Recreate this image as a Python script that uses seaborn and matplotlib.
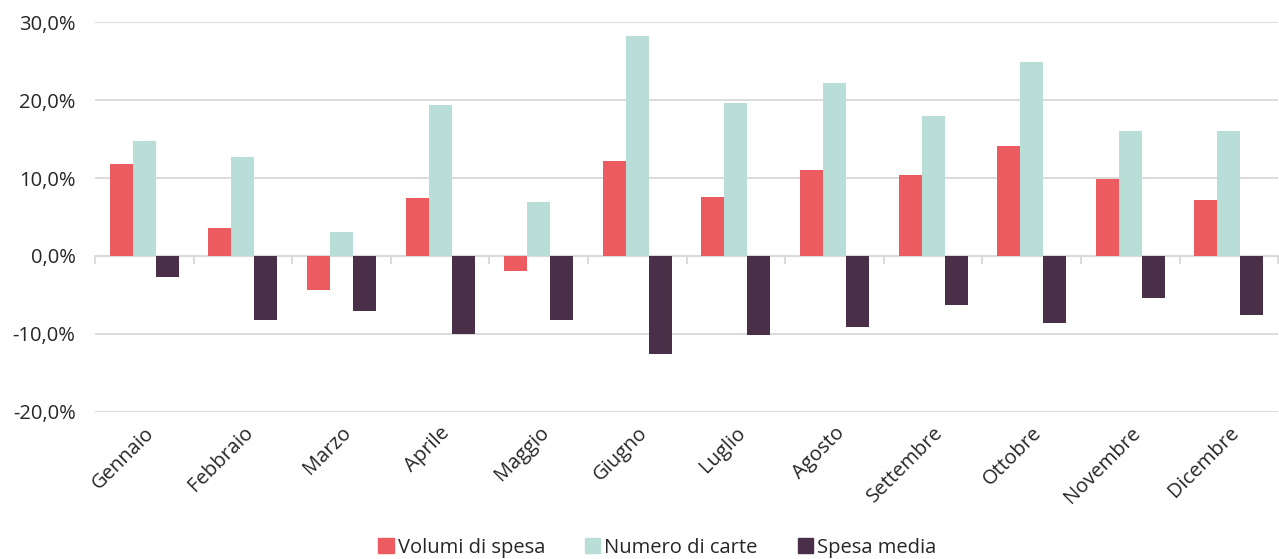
import pandas as pd
import matplotlib.pyplot as plt
import seaborn as sns
from matplotlib.ticker import FuncFormatter, FixedLocator

# dati (variazione % rispetto all'anno precedente)
mesi = ['Gennaio', 'Febbraio', 'Marzo', 'Aprile', 'Maggio', 'Giugno',
        'Luglio', 'Agosto', 'Settembre', 'Ottobre', 'Novembre', 'Dicembre']
volumi_spesa = [11.8, 3.6, -4.4, 7.4, -1.9, 12.2, 7.6, 11.0, 10.4, 14.1, 9.9, 7.2]
numero_carte = [14.7, 12.7, 3.1, 19.4, 6.9, 28.2, 19.6, 22.2, 17.9, 24.9, 16.0, 16.0]
spesa_media = [-2.7, -8.2, -7.1, -10.0, -8.2, -12.6, -10.1, -9.1, -6.3, -8.6, -5.4, -7.6]

serie = ['Volumi di spesa', 'Numero di carte', 'Spesa media']
colori = ['#EB5B5F', '#B9DED7', '#4A2F48']

df = pd.DataFrame({
    'mese': mesi * 3,
    'serie': [serie[0]] * 12 + [serie[1]] * 12 + [serie[2]] * 12,
    'valore': volumi_spesa + numero_carte + spesa_media,
})

sns.set_theme(style='white')
plt.rcParams['font.family'] = ['Open Sans', 'DejaVu Sans']

fig = plt.figure(figsize=(12.79, 5.59), dpi=100)
ax = fig.add_axes([0.0743, 0.263, 0.925, 0.6976])

sns.barplot(data=df, x='mese', y='valore', hue='serie', order=mesi,
            hue_order=serie, palette=colori, width=0.7, saturation=1,
            linewidth=0, ax=ax, legend=False, zorder=3)

ax.set_ylim(-20, 30)
ax.set_xlim(-0.5, len(mesi) - 0.5)
ax.set_yticks([-20, -10, 0, 10, 20, 30])
ax.yaxis.set_major_formatter(FuncFormatter(lambda v, p: f'{v:.1f}%'.replace('.', ',')))
ax.yaxis.grid(True, color='#d9d9d9', linewidth=1.3, zorder=0)
ax.set_axisbelow(True)
ax.set_xlabel('')
ax.set_ylabel('')

for s in ['left', 'right', 'bottom']:
    ax.spines[s].set_visible(False)
# linea dello zero con le tacche tra i mesi
ax.spines['top'].set_position(('data', 0))
ax.spines['top'].set_color('#d9d9d9')
ax.spines['top'].set_linewidth(1.3)
ax.xaxis.set_minor_locator(FixedLocator([i - 0.5 for i in range(len(mesi) + 1)]))
ax.tick_params(axis='x', which='minor', top=True, bottom=False, direction='in',
               length=6, width=1.3, color='#d9d9d9')
ax.tick_params(axis='x', which='major', length=0, pad=8)
ax.tick_params(axis='y', length=0, pad=14, labelsize=14.5, labelcolor='#262626')

plt.setp(ax.get_xticklabels(), rotation=45, ha='right', rotation_mode='anchor',
         fontsize=14.5, color='#262626')

handles = [plt.Rectangle((0, 0), 1, 1, color=c) for c in colori]
fig.legend(handles, serie, loc='lower center', bbox_to_anchor=(0.514, -0.03),
           ncol=3, frameon=False, fontsize=14.5, handlelength=0.75, handleheight=0.75,
           handletextpad=0.2, columnspacing=2.0, labelcolor='#262626')

fig.savefig('out.png', dpi=100)
